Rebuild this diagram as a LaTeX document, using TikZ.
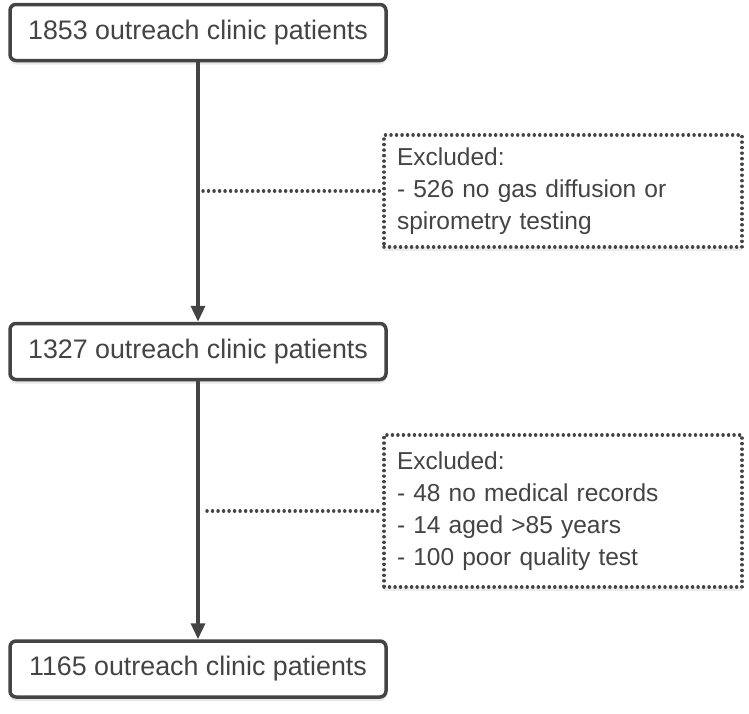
\documentclass[tikz,border=0pt]{standalone}
\usepackage{fontspec}
\setmainfont{Liberation Sans}
\usetikzlibrary{arrows.meta,shadows,positioning}
\definecolor{ink}{HTML}{444444}
\tikzset{
  mainbox/.style={draw=ink, line width=3.5pt, rounded corners=6pt, fill=white,
    minimum width=376pt, minimum height=56pt, inner sep=0pt,
    text=ink, font=\fontsize{26.8}{30}\selectfont,
    drop shadow={opacity=0.18, shadow xshift=0pt, shadow yshift=-4pt}},
  exbox/.style={draw=ink, line width=3.5pt, dash pattern=on 0.01pt off 5.5pt, line cap=round,
    fill=white, minimum width=358pt, text width=332pt, align=left, inner sep=0pt,
    text=ink, font=\fontsize{24.5}{32}\selectfont,
    drop shadow={opacity=0.15, shadow xshift=0pt, shadow yshift=-4pt}},
  flow/.style={draw=ink, line width=3.5pt, -{Triangle[length=16pt,width=14pt]}},
  dotline/.style={draw=ink, line width=3.5pt, dash pattern=on 0.01pt off 5.5pt, line cap=round}
}
\begin{document}
\begin{tikzpicture}[x=1pt,y=-1pt]
\useasboundingbox (0,0) rectangle (749,713);
\node[mainbox] (a) at (198,32.5) {1853 outreach clinic patients};
\node[mainbox] (b) at (198,351.5) {1327 outreach clinic patients};
\node[mainbox] (c) at (198,669) {1165 outreach clinic patients};
\node[exbox, minimum height=112pt] (e1) at (563,191) {Excluded:\\- 526 no gas diffusion or\\spirometry testing};
\node[exbox, minimum height=152pt] (e2) at (563,511) {Excluded:\\- 48 no medical records\\- 14 aged >85 years\\- 100 poor quality test};
\draw[flow] (a.south) -- (b.north);
\draw[flow] (b.south) -- (c.north);
\coordinate (d1) at (203,191);
\coordinate (d2) at (207,511);
\draw[dotline] (d1) -- (e1.west);
\draw[dotline] (d2) -- (e2.west);
\end{tikzpicture}
\end{document}
